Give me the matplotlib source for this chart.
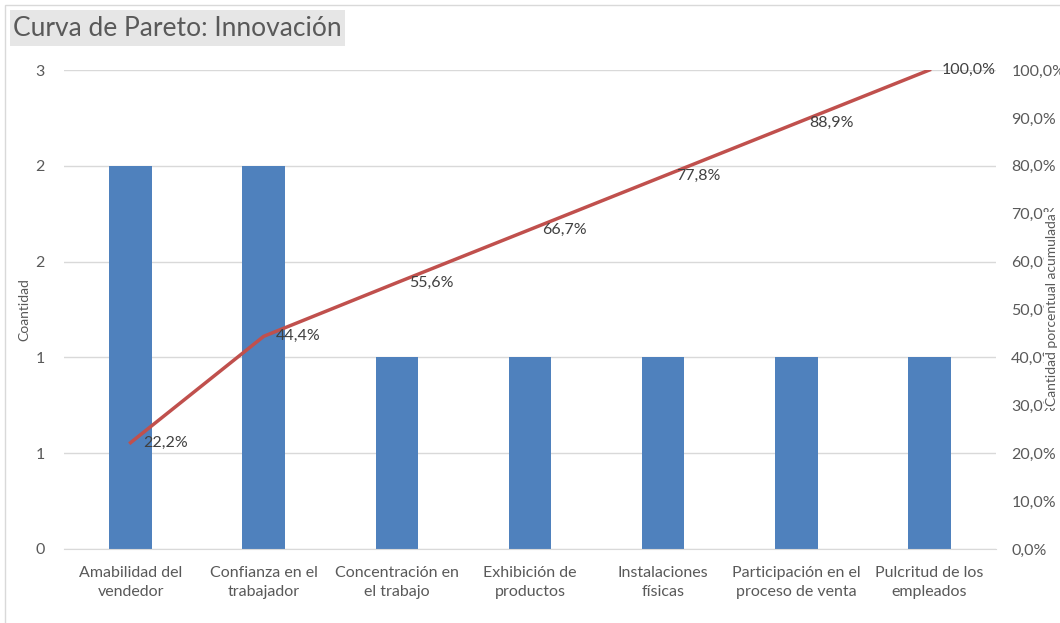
import matplotlib.pyplot as plt
import numpy as np
from matplotlib.ticker import FuncFormatter, MultipleLocator
from matplotlib.patches import Rectangle

plt.rcParams['font.family'] = ['Lato', 'DejaVu Sans']

categorias = ["Amabilidad del\nvendedor", "Confianza en el\ntrabajador", "Concentración en\nel trabajo",
              "Exhibición de\nproductos", "Instalaciones\nfísicas", "Participación en el\nproceso de venta",
              "Pulcritud de los\nempleados"]
cantidad = [2, 2, 1, 1, 1, 1, 1]
acumulado = [22.2, 44.4, 55.6, 66.7, 77.8, 88.9, 100.0]

bar_color = '#4F81BD'
line_color = '#C0504D'
grid_color = '#D9D9D9'
text_color = '#595959'

fig = plt.figure(figsize=(10.6, 6.23), dpi=100)
ax1 = fig.add_axes([64/1060, (623-549)/623, (996-64)/1060, (549-70)/623])
ax2 = ax1.twinx()

x = np.arange(len(categorias))
ax1.bar(x, cantidad, width=0.32, color=bar_color, zorder=2)
ax1.set_ylim(0, 2.5)
ax1.set_xlim(-0.5, len(categorias) - 0.5)
ax1.yaxis.set_major_locator(MultipleLocator(0.5))
ax1.yaxis.set_major_formatter(FuncFormatter(lambda v, p: "%d" % int(np.floor(v + 0.5))))
ax1.grid(axis='y', color=grid_color, linewidth=1, zorder=0)
ax1.set_axisbelow(True)
ax1.set_xticks(x)
ax1.set_xticklabels(categorias, fontsize=11.5, color=text_color, linespacing=1.45)
ax1.tick_params(axis='both', length=0, labelsize=11.5, colors=text_color)
ax1.tick_params(axis='x', pad=12)
ax1.tick_params(axis='y', pad=14)
ax1.set_ylabel("Coantidad", fontsize=10, color=text_color)
ax1.yaxis.set_label_coords(-0.036, 0.5)
for s in ['top', 'right', 'left']:
    ax1.spines[s].set_visible(False)
ax1.spines['bottom'].set_color(grid_color)

ax2.plot(x, acumulado, color=line_color, linewidth=2.5, zorder=3)
for xi, v in zip(x, acumulado):
    ax2.annotate(("%.1f%%" % v).replace('.', ','), (xi, v), xytext=(9, 0), textcoords='offset points',
                 va='center', ha='left', fontsize=11.5, color='#404040')
ax2.set_ylim(0, 100)
ax2.yaxis.set_major_locator(MultipleLocator(10))
ax2.yaxis.set_major_formatter(FuncFormatter(lambda v, p: ("%.1f%%" % v).replace('.', ',')))
ax2.tick_params(axis='y', length=0, labelsize=11.5, colors=text_color, pad=11)
for s in ['top', 'right', 'left', 'bottom']:
    ax2.spines[s].set_visible(False)

# right axis title sits over the tick labels, as in the original
fig.text(1052/1060, (623-310)/623, "Cantidad porcentual acumulada", fontsize=10, color=text_color,
         rotation=90, ha='center', va='center', zorder=10,
         bbox=dict(facecolor='white', edgecolor='none', pad=1.5))

# chart border
fig.add_artist(Rectangle((5/1060, -0.01), 1.0, 1.0 - 5/623 + 0.01, transform=fig.transFigure,
                         fill=False, edgecolor='#D9D9D9', linewidth=1))
# title box
fig.add_artist(Rectangle((10/1060, (623-46)/623), 335/1060, 36/623, transform=fig.transFigure,
                         facecolor='#E6E6E6', edgecolor='none'))
fig.text(13/1060, (623-28)/623, "Curva de Pareto: Innovación", fontsize=19, color=text_color,
         va='center', ha='left')

fig.savefig("out.png", dpi=100)
